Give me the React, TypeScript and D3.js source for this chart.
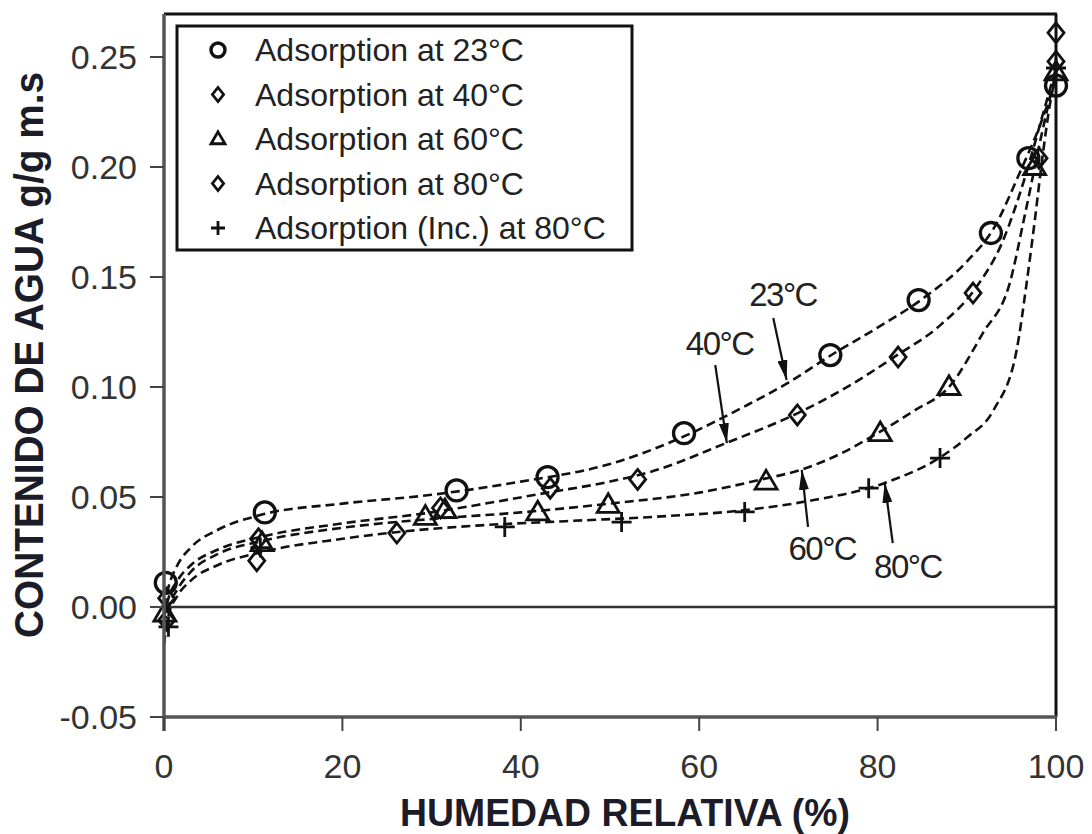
import React from "react";
import * as d3 from "d3";

// ---- data ----
const xTicks = [0, 20, 40, 60, 80, 100];
const yTicks = [-0.05, 0.0, 0.05, 0.1, 0.15, 0.2, 0.25];
const yTickLabels = ["-0.05", "0.00", "0.05", "0.10", "0.15", "0.20", "0.25"];

const ads23: [number, number][] = [
  [0.2, 0.011], [11.3, 0.043], [32.8, 0.053], [43, 0.059], [58.3, 0.079],
  [74.7, 0.1145], [84.6, 0.1395], [92.7, 0.17], [96.9, 0.204], [100, 0.237],
];
const ads40: [number, number][] = [
  [0.3, 0.004], [10.6, 0.031], [31, 0.045], [43.3, 0.054], [53.1, 0.058],
  [71, 0.0873], [82.3, 0.1136], [90.7, 0.1427], [98.1, 0.204], [100, 0.248],
];
const ads60: [number, number][] = [
  [0.1, -0.003], [11, 0.029], [29.3, 0.041], [31.5, 0.044], [41.9, 0.043],
  [49.8, 0.0464], [67.5, 0.057], [80.3, 0.079], [88, 0.1], [97.6, 0.2], [100, 0.243],
];
const ads80: [number, number][] = [
  [0.3, -0.006], [10.4, 0.021], [26.1, 0.0336], [100, 0.261],
];
const adsInc80: [number, number][] = [
  [0.5, -0.009], [10.8, 0.027], [38.2, 0.0364], [51.3, 0.0386], [65.1, 0.0432],
  [79, 0.054], [87, 0.0677], [100, 0.245],
];

const curve23: [number, number][] = [
  [0, 0.0], [0.5, 0.009], [1.5, 0.019], [3, 0.027], [6, 0.035], [11, 0.042], [20, 0.047],
  [30, 0.051], [40, 0.057], [50, 0.065], [58, 0.077], [65, 0.091], [70, 0.102], [75, 0.115],
  [80, 0.127], [85, 0.14], [90, 0.157], [93, 0.172], [96, 0.198], [98.3, 0.22], [100, 0.24],
];
const curve40: [number, number][] = [
  [0, -0.005], [0.5, 0.004], [1.5, 0.012], [3, 0.019], [6, 0.026], [11, 0.032], [20, 0.038],
  [30, 0.043], [36, 0.047], [43, 0.052], [50, 0.057], [55, 0.062], [63, 0.0745], [71, 0.088],
  [77, 0.101], [82, 0.114], [87, 0.128], [91, 0.145], [94, 0.166], [96.5, 0.195], [98.6, 0.225], [100, 0.245],
];
const curve60: [number, number][] = [
  [0, -0.008], [0.5, 0.0], [1.5, 0.008], [3, 0.016], [6, 0.024], [11, 0.03], [20, 0.036],
  [30, 0.04], [40, 0.043], [50, 0.047], [60, 0.052], [67, 0.058], [71.5, 0.0625], [76, 0.07],
  [80, 0.079], [84, 0.089], [88, 0.1], [91.8, 0.1245], [94.8, 0.147], [96.6, 0.18], [98.4, 0.215], [100, 0.243],
];
const curve80: [number, number][] = [
  [0, -0.017], [0.5, -0.004], [1.5, 0.005], [3, 0.012], [6, 0.019], [11, 0.025], [20, 0.031],
  [26, 0.034], [35, 0.037], [45, 0.039], [55, 0.041], [65, 0.044], [72, 0.048], [80.8, 0.0564],
  [87, 0.068], [90, 0.077], [93, 0.0895], [95.6, 0.117], [96.7, 0.147], [97.6, 0.175],
  [98.5, 0.205], [99.3, 0.228], [100, 0.242],
];

const curves = [curve23, curve40, curve60, curve80];

const legendLabels = [
  "Adsorption at 23°C",
  "Adsorption at 40°C",
  "Adsorption at 60°C",
  "Adsorption at 80°C",
  "Adsorption (Inc.) at 80°C",
];
const legendSymbols = ["circle", "diamond", "triangle", "diamond", "plus"];

// annotations: label position, arrow start and arrow tip in data units
const annLabels = ["23°C", "40°C", "60°C", "80°C"];
const annLabelPos: [number, number][] = [[69.4, 0.142], [62.3, 0.12], [73.8, 0.0268], [83.4, 0.0186]];
const annFrom: [number, number][] = [[68.3, 0.1314], [61.8, 0.11], [72.2, 0.0364], [81.7, 0.029]];
const annTip: [number, number][] = [[69.8, 0.1032], [63.1, 0.0745], [71.5, 0.0623], [80.8, 0.0564]];

const series = [
  { pts: ads23, sym: "circle" },
  { pts: ads40, sym: "diamond" },
  { pts: ads60, sym: "triangle" },
  { pts: ads80, sym: "diamond" },
  { pts: adsInc80, sym: "plus" },
];

// ---- layout ----
const W = 1092;
const H = 834;
const L = 164, R = 1056, T = 14, B = 717;

function Marker({ sym, cx, cy, s, sw }: { sym: string; cx: number; cy: number; s: number; sw: number }) {
  const common = { fill: "none", stroke: "#111", strokeWidth: sw };
  if (sym === "circle") return <circle cx={cx} cy={cy} r={s} {...common} />;
  if (sym === "diamond")
    return <path d={`M${cx},${cy - s}L${cx + s * 0.8},${cy}L${cx},${cy + s}L${cx - s * 0.8},${cy}Z`} {...common} />;
  if (sym === "triangle") {
    const h = s * 1.7;
    return <path d={`M${cx},${cy - h * 0.6}L${cx + s},${cy + h * 0.4}L${cx - s},${cy + h * 0.4}Z`} {...common} />;
  }
  return <path d={`M${cx - s},${cy}H${cx + s}M${cx},${cy - s}V${cy + s}`} {...common} />;
}

export default function App() {
  const x = d3.scaleLinear().domain([0, 100]).range([L, R]);
  const y = d3.scaleLinear().domain([-0.05, 0.27]).range([B, T - 1]);
  const line = d3
    .line<[number, number]>()
    .x((d) => x(d[0]))
    .y((d) => y(d[1]))
    .curve(d3.curveMonotoneX);

  const tickFont = "'Liberation Sans', Arial, sans-serif";
  const titleFont = "'Liberation Sans Narrow', 'Arial Narrow', 'Liberation Sans', sans-serif";

  return (
    <svg width={W} height={H} style={{ position: "absolute", left: 0, top: 0, background: "#fff" }}>
      <defs>
        <marker id="ah" viewBox="0 0 20 10" refX="20" refY="5" markerWidth="20" markerHeight="10"
          markerUnits="userSpaceOnUse" orient="auto">
          <path d="M0,0L20,5L0,10Z" fill="#111" />
        </marker>
      </defs>
      <rect x={0} y={0} width={W} height={H} fill="#fff" />

      {/* zero line */}
      <line x1={L} x2={R} y1={y(0)} y2={y(0)} stroke="#333" strokeWidth={2.5} />

      {/* curves */}
      {curves.map((c, i) => (
        <path key={i} d={line(c) || ""} fill="none" stroke="#111" strokeWidth={2.6} strokeDasharray="9 5" />
      ))}

      {/* markers */}
      {series.map((s, i) =>
        s.pts.map((p, j) => (
          <Marker key={`${i}-${j}`} sym={s.sym} cx={x(p[0])} cy={y(p[1])}
            s={s.sym === "circle" ? 10.5 : s.sym === "triangle" ? 11 : 10}
            sw={s.sym === "circle" ? 3.3 : 2.8} />
        ))
      )}

      {/* annotations */}
      {annLabels.map((lab, i) => (
        <g key={lab}>
          <line x1={x(annFrom[i][0])} y1={y(annFrom[i][1])} x2={x(annTip[i][0])} y2={y(annTip[i][1])}
            stroke="#111" strokeWidth={2.2} markerEnd="url(#ah)" />
          <text x={x(annLabelPos[i][0])} y={y(annLabelPos[i][1])} textAnchor="middle" dominantBaseline="central"
            fontFamily={tickFont} fontSize={33} fill="#222" letterSpacing={-1.5}>
            {lab}
          </text>
        </g>
      ))}

      {/* frame */}
      <line x1={L} x2={R + 1} y1={T} y2={T} stroke="#111" strokeWidth={3} />
      <line x1={R} x2={R} y1={T} y2={B} stroke="#111" strokeWidth={3} />
      <line x1={L} x2={R + 1} y1={B} y2={B} stroke="#555" strokeWidth={3.5} />
      <line x1={L} x2={L} y1={T} y2={B + 14} stroke="#555" strokeWidth={3.5} />

      {/* y ticks */}
      {yTicks.map((t, i) => (
        <g key={t}>
          <line x1={L - 14} x2={L} y1={y(t)} y2={y(t)} stroke="#444" strokeWidth={2} />
          <text x={137} y={y(t)} textAnchor="end" dominantBaseline="central" fontFamily={tickFont}
            fontSize={34} fill="#333">
            {yTickLabels[i]}
          </text>
        </g>
      ))}

      {/* x ticks */}
      {xTicks.map((t) => (
        <g key={t}>
          <line x1={x(t)} x2={x(t)} y1={B} y2={B + 14} stroke="#444" strokeWidth={2} />
          <text x={x(t)} y={778} textAnchor="middle" fontFamily={tickFont} fontSize={34} fill="#333">
            {t}
          </text>
        </g>
      ))}

      {/* axis titles */}
      <text x={625} y={826} textAnchor="middle" fontFamily={titleFont} fontWeight="bold" fontSize={38}
        fill="#1c1c28" textLength={450} lengthAdjust="spacingAndGlyphs">
        HUMEDAD RELATIVA (%)
      </text>
      <text transform="translate(43,355) rotate(-90)" textAnchor="middle" fontFamily={titleFont}
        fontWeight="bold" fontSize={40} fill="#1c1c28" textLength={566} lengthAdjust="spacingAndGlyphs">
        CONTENIDO DE AGUA g/g m.s
      </text>

      {/* legend */}
      <rect x={177} y={26} width={455} height={224} fill="#fff" stroke="#111" strokeWidth={3} />
      {legendLabels.map((lab, i) => {
        const cy = 50 + i * 44.5;
        return (
          <g key={lab}>
            <Marker sym={legendSymbols[i]} cx={218} cy={cy} s={7}
              sw={legendSymbols[i] === "circle" ? 3.4 : 2.8} />
            <text x={255} y={cy} dominantBaseline="central" fontFamily={tickFont} fontSize={32} fill="#222">
              {lab}
            </text>
          </g>
        );
      })}
    </svg>
  );
}
